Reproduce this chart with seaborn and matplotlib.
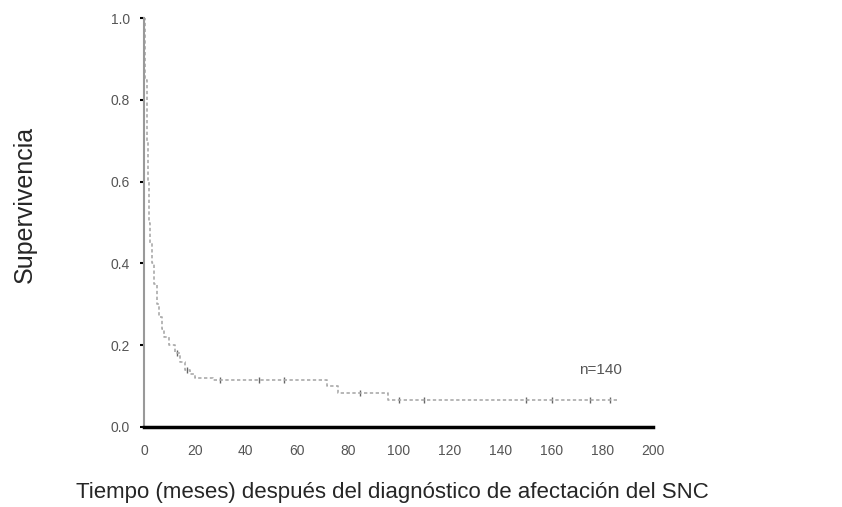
import numpy as np
import pandas as pd
import matplotlib
matplotlib.use("Agg")
import matplotlib.pyplot as plt
import seaborn as sns

# Kaplan-Meier estimate
tiempo = [0, 0.5, 1, 1.5, 2, 2.5, 3, 4, 5, 6, 7, 8, 10, 12, 14, 16, 18, 20, 27, 68, 72, 76, 90, 96, 186]
superv = [1.0, 0.85, 0.7, 0.6, 0.5, 0.45, 0.4, 0.35, 0.3, 0.27, 0.24, 0.22, 0.2, 0.18, 0.16,
          0.14, 0.13, 0.12, 0.115, 0.115, 0.10, 0.083, 0.083, 0.066, 0.066]
# censored observations (small tick marks)
cens_t = [13, 17, 30, 45, 55, 85, 100, 110, 150, 160, 175, 183]
cens_s = [0.18, 0.14, 0.115, 0.115, 0.115, 0.083, 0.066, 0.066, 0.066, 0.066, 0.066, 0.066]

xticks = list(range(0, 201, 20))
yticks = [0.0, 0.2, 0.4, 0.6, 0.8, 1.0]
yticklabels = ["0.0", "0.2", "0.4", "0.6", "0.8", "1.0"]

df = pd.DataFrame({"t": tiempo, "s": superv})
dfc = pd.DataFrame({"t": cens_t, "s": cens_s})

sns.set_style("white")
plt.rcParams["font.family"] = ["Liberation Sans", "DejaVu Sans"]

fig = plt.figure(figsize=(8.42, 5.07), dpi=100)
ax = fig.add_axes([0.171, 0.158, 0.605, 0.806])

sns.lineplot(data=df, x="t", y="s", drawstyle="steps-post", color="#aaaaaa",
             linewidth=1.2, linestyle=(0, (2, 1.5)), ax=ax)
sns.scatterplot(data=dfc, x="t", y="s", marker="|", s=20, color="#666666",
                linewidth=1, ax=ax)

ax.set_xlim(0, 200)
ax.set_ylim(0, 1.0)
ax.set_xticks(xticks)
ax.set_yticks(yticks)
ax.set_yticklabels(yticklabels)
ax.tick_params(axis="both", labelsize=10, labelcolor="#555555", length=3, width=1.5,
               direction="out", left=True, bottom=False)
ax.tick_params(axis="y", color="black", pad=7)
ax.tick_params(axis="x", pad=9)

sns.despine(ax=ax)
ax.spines["left"].set_color("#999999")
ax.spines["left"].set_linewidth(1.5)
ax.spines["bottom"].set_color("black")
ax.spines["bottom"].set_linewidth(2.5)

ax.text(171, 0.14, "n=140", fontsize=11, color="#555555", ha="left", va="center")

ax.set_xlabel("Tiempo (meses) después del diagnóstico de afectación del SNC", fontsize=16)
ax.set_ylabel("Supervivencia", fontsize=18)
ax.xaxis.set_label_coords(0.487, -0.135)
ax.yaxis.set_label_coords(-0.21, 0.545)

fig.savefig("out.png", dpi=100)
